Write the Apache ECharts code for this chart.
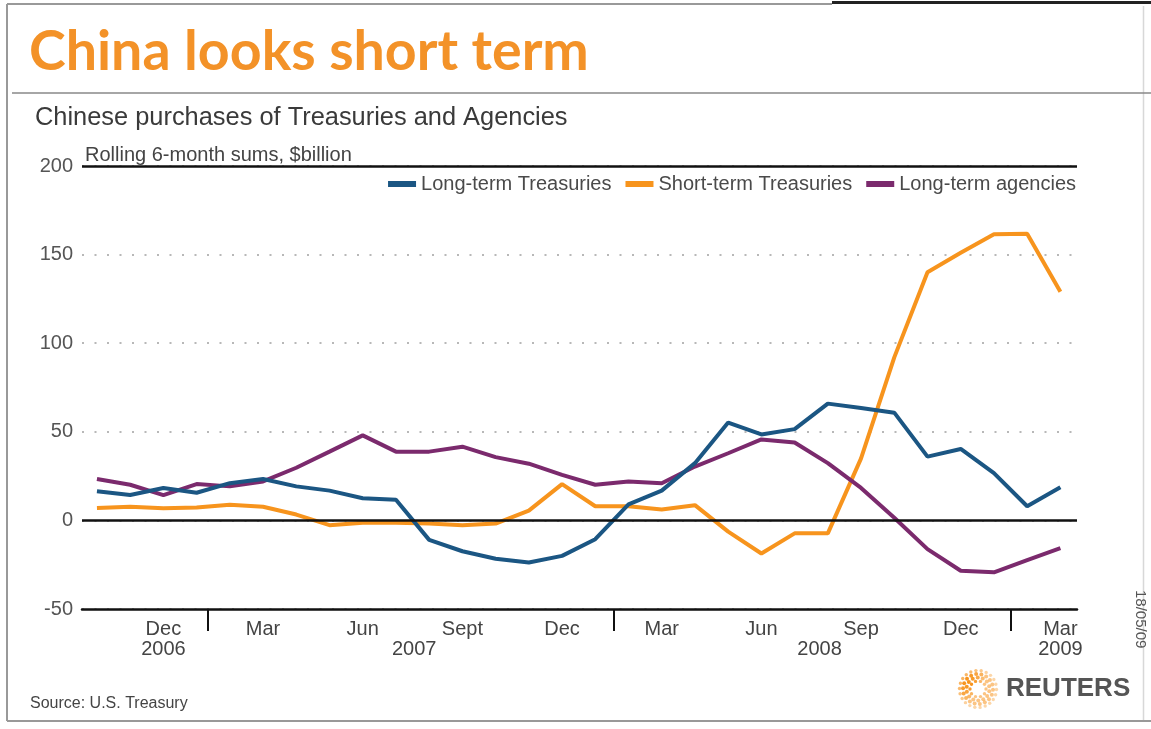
<!DOCTYPE html>
<html>
<head>
<meta charset="utf-8">
<title>China looks short term</title>
<script src="https://cdn.jsdelivr.net/npm/echarts@6/dist/echarts.min.js"></script>
<style>
  html, body { margin: 0; padding: 0; background: #fff; }
  #chart { width: 1151px; height: 729px; }
</style>
</head>
<body>
<div id="chart"></div>
<script>
// Monthly points, Oct 2006 .. Mar 2009 (rolling 6-month sums, $billion)
const months = [
  'Oct 2006', 'Nov 2006', 'Dec 2006',
  'Jan 2007', 'Feb 2007', 'Mar 2007', 'Apr 2007', 'May 2007', 'Jun 2007',
  'Jul 2007', 'Aug 2007', 'Sep 2007', 'Oct 2007', 'Nov 2007', 'Dec 2007',
  'Jan 2008', 'Feb 2008', 'Mar 2008', 'Apr 2008', 'May 2008', 'Jun 2008',
  'Jul 2008', 'Aug 2008', 'Sep 2008', 'Oct 2008', 'Nov 2008', 'Dec 2008',
  'Jan 2009', 'Feb 2009', 'Mar 2009'
];

const longTermTreasuries = [
  16.5, 14.3, 18.3, 15.6, 21, 23.4, 19.2, 16.8, 12.5, 11.7,
  -11, -17.4, -21.6, -23.8, -20, -10.6, 9, 16.8, 32.3, 55.2,
  48.5, 51.5, 65.9, 63.4, 60.8, 36, 40.3, 26.7, 8, 18.7
];
const shortTermTreasuries = [
  7.0, 7.7, 6.8, 7.3, 8.8, 7.7, 3.3, -2.7, -1.3, -1.3,
  -1.8, -2.7, -1.8, 5.5, 20.5, 8, 8, 6.2, 8.6, -6.3,
  -18.7, -7.3, -7.3, 35, 92, 140, 151, 161.5, 161.7, 129
];
const longTermAgencies = [
  23.4, 20.1, 14.3, 20.5, 19.2, 22, 29.7, 38.8, 48, 38.8,
  38.8, 41.6, 35.7, 32, 25.7, 20.1, 22, 21, 30.4, 37.9,
  45.7, 44, 32.3, 18.3, 1.5, -16.2, -28.4, -29.3, -22.4, -15.7
];

// Axis labels (positions are month indices into `months`)
const monthTickIndex = [2, 5, 8, 11, 14, 17, 20, 23, 26, 29];
const monthTickLabels = ['Dec', 'Mar', 'Jun', 'Sept', 'Dec', 'Mar', 'Jun', 'Sep', 'Dec', 'Mar'];
const yearTickIndex = [2, 9.55, 21.75, 29];
const yearTickLabels = ['2006', '2007', '2008', '2009'];
const yearBreakIndex = [3.35, 15.55, 27.5];
const yTicks = [-50, 0, 50, 100, 150, 200];

const FONT = "'Liberation Sans', Arial, Helvetica, sans-serif";
const BLUE = '#1b5683';
const ORANGE = '#f7941d';
const PURPLE = '#7b2a6d';

const toPoints = arr => arr.map((v, i) => [i, v]);

// Reuters logo: concentric rings of small dots around a white centre
function reutersDots(cx, cy) {
  const out = [];
  const rings = [[8, 10, 1.7], [11.5, 14, 2.0], [15, 18, 2.0], [18.5, 22, 1.7]];
  rings.forEach(([r, n, s], k) => {
    for (let j = 0; j < n; j++) {
      const a = (j / n) * Math.PI * 2 + k * 0.2;
      const shade = 0.55 + 0.45 * Math.max(0, -Math.cos(a - 0.6));
      out.push({
        type: 'circle',
        silent: true,
        shape: { cx: cx + r * Math.cos(a), cy: cy + r * Math.sin(a), r: s },
        style: { fill: ORANGE, opacity: shade * (k === 3 ? 0.7 : 1) }
      });
    }
  });
  return out;
}

const chart = echarts.init(document.getElementById('chart'), null, { renderer: 'canvas' });

const option = {
  backgroundColor: '#ffffff',
  animation: false,
  grid: { left: 82, right: 74, top: 166, bottom: 120, containLabel: false },
  legend: {
    data: ['Long-term Treasuries', 'Short-term Treasuries', 'Long-term agencies'],
    right: 75,
    top: 174,
    padding: 0,
    icon: 'rect',
    itemWidth: 28,
    itemHeight: 6,
    itemGap: 14,
    textStyle: { fontFamily: FONT, fontSize: 20, color: '#4a4a4a', padding: [0, 0, 0, 0] }
  },
  xAxis: [
    {
      type: 'value',
      min: -0.45,
      max: 29.5,
      axisLine: { show: true, onZero: false, lineStyle: { color: '#111', width: 2.5 } },
      axisTick: {
        show: true,
        customValues: yearBreakIndex,
        length: 22,
        inside: false,
        lineStyle: { color: '#111', width: 2 }
      },
      axisLabel: {
        customValues: monthTickIndex,
        formatter: v => monthTickLabels[monthTickIndex.indexOf(Math.round(v))] || '',
        fontFamily: FONT,
        fontSize: 20,
        color: '#444',
        margin: 10
      },
      splitLine: { show: false }
    },
    {
      type: 'value',
      min: -0.45,
      max: 29.5,
      position: 'bottom',
      axisLine: { show: false },
      axisTick: { show: false },
      axisLabel: {
        customValues: yearTickIndex,
        formatter: v => {
          const k = yearTickIndex.findIndex(p => Math.abs(p - v) < 1e-6);
          return k >= 0 ? yearTickLabels[k] : '';
        },
        fontFamily: FONT,
        fontSize: 20,
        color: '#444',
        margin: 30
      },
      splitLine: { show: false }
    }
  ],
  yAxis: {
    type: 'value',
    min: -50,
    max: 200,
    interval: 50,
    axisLine: { show: false },
    axisTick: { show: false },
    axisLabel: {
      fontFamily: FONT,
      fontSize: 20,
      color: '#555',
      margin: 9,
      formatter: v => (yTicks.indexOf(v) >= 0 ? String(v) : '')
    },
    splitLine: { show: true, lineStyle: { color: '#b8b8b8', width: 2, type: [2, 10.5] } }
  },
  series: [
    {
      // reference lines at 0 and at the top of the scale
      name: 'ref',
      type: 'line',
      data: [],
      z: 1,
      silent: true,
      markLine: {
        silent: true,
        symbol: ['none', 'none'],
        label: { show: false },
        lineStyle: { color: '#111', width: 2.5, type: 'solid' },
        data: [{ yAxis: 0 }, { yAxis: 200 }]
      }
    },
    {
      name: 'Long-term Treasuries',
      type: 'line',
      z: 3,
      data: toPoints(longTermTreasuries),
      showSymbol: false,
      symbol: 'none',
      lineStyle: { color: BLUE, width: 4 },
      itemStyle: { color: BLUE }
    },
    {
      name: 'Short-term Treasuries',
      type: 'line',
      z: 2,
      data: toPoints(shortTermTreasuries),
      showSymbol: false,
      symbol: 'none',
      lineStyle: { color: ORANGE, width: 4 },
      itemStyle: { color: ORANGE }
    },
    {
      name: 'Long-term agencies',
      type: 'line',
      z: 2,
      data: toPoints(longTermAgencies),
      showSymbol: false,
      symbol: 'none',
      lineStyle: { color: PURPLE, width: 4 },
      itemStyle: { color: PURPLE }
    }
  ],
  graphic: [
    // frame
    { type: 'line', silent: true, shape: { x1: 7, y1: 4, x2: 832, y2: 4 }, style: { stroke: '#999', lineWidth: 2 } },
    { type: 'line', silent: true, shape: { x1: 832, y1: 2.5, x2: 1151, y2: 2.5 }, style: { stroke: '#222', lineWidth: 3 } },
    { type: 'line', silent: true, shape: { x1: 7, y1: 4, x2: 7, y2: 721 }, style: { stroke: '#999', lineWidth: 2 } },
    { type: 'line', silent: true, shape: { x1: 1143.5, y1: 6, x2: 1143.5, y2: 721 }, style: { stroke: '#d8d8d8', lineWidth: 1.5 } },
    { type: 'line', silent: true, shape: { x1: 7, y1: 721, x2: 1151, y2: 721 }, style: { stroke: '#999', lineWidth: 2 } },
    { type: 'line', silent: true, shape: { x1: 12, y1: 93, x2: 1151, y2: 93 }, style: { stroke: '#888', lineWidth: 1.5 } },
    // headings
    {
      type: 'text', silent: true, left: 29, top: 24,
      style: { text: 'China looks short term', font: "bold 55.5px Lato, 'Open Sans', sans-serif", fill: '#f39228' }
    },
    {
      type: 'text', silent: true, left: 35, top: 105,
      style: { text: 'Chinese purchases of Treasuries and Agencies', font: '25.4px ' + FONT, fill: '#3a3a3a' }
    },
    {
      type: 'text', silent: true, left: 85, top: 145,
      style: { text: 'Rolling 6-month sums, $billion', font: '20px ' + FONT, fill: '#444' }
    },
    {
      type: 'text', silent: true, left: 30, top: 696,
      style: { text: 'Source: U.S. Treasury', font: '16px ' + FONT, fill: '#444' }
    },
    {
      type: 'text', silent: true, x: 1133, y: 590, rotation: -Math.PI / 2,
      style: { text: '18/05/09', font: '15px ' + FONT, fill: '#555', align: 'left', verticalAlign: 'bottom' }
    },
    // Reuters mark
    ...reutersDots(978, 689),
    {
      type: 'text', silent: true, left: 1006, top: 676,
      style: { text: 'REUTERS', font: "bold 26px 'Liberation Sans', Arial, sans-serif", fill: '#555' }
    }
  ]
};

chart.setOption(option);
</script>
</body>
</html>
